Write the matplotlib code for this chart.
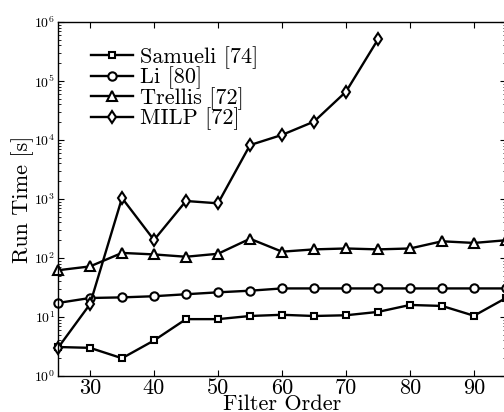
import numpy as np
import matplotlib
matplotlib.use('Agg')
import matplotlib.pyplot as plt
from matplotlib.ticker import FixedLocator, FuncFormatter, LogLocator, NullFormatter

plt.rcParams['mathtext.fontset'] = 'cm'
plt.rcParams['font.family'] = ['cmr10', 'DejaVu Serif']
plt.rcParams['axes.unicode_minus'] = False

order = [25, 30, 35, 40, 45, 50, 55, 60, 65, 70, 75, 80, 85, 90, 95]
order_milp = [25, 30, 35, 40, 45, 50, 55, 60, 65, 70, 75]

samueli = [3.1, 3.0, 2.0, 4.0, 9.2, 9.2, 10.4, 10.9, 10.4, 10.7, 12.2, 16.0, 15.4, 10.5, 21.0]
li = [17.3, 21.0, 21.5, 22.5, 24.3, 26.2, 27.9, 30.5, 30.5, 30.5, 30.5, 30.5, 30.5, 30.5, 30.5]
trellis = [62, 72, 122, 115, 105, 118, 212, 128, 140, 145, 140, 145, 192, 180, 200]
milp = [3.0, 16.5, 1040, 202, 925, 845, 8200, 12200, 20500, 65900, 508000]

labels = ['Samueli [74]', 'Li [80]', 'Trellis [72]', 'MILP [72]']

fig = plt.figure(figsize=(5.04, 4.12), dpi=100)
ax = fig.add_axes([58 / 504, 36 / 412, 448 / 504, 354 / 412])

style = dict(color='black', lw=1.7, mfc='white', mec='black', mew=1.5, clip_on=False)
ax.plot(order, samueli, marker='s', ms=5, label=labels[0], **style)
ax.plot(order, li, marker='o', ms=6, label=labels[1], **style)
ax.plot(order, trellis, marker='^', ms=7, label=labels[2], **style)
ax.plot(order_milp, milp, marker='d', ms=6.5, label=labels[3], **style)

ax.set_yscale('log')
ax.set_xlim(25, 95)
ax.set_ylim(1, 1e6)

ax.xaxis.set_major_locator(FixedLocator([30, 40, 50, 60, 70, 80, 90]))
ax.xaxis.set_major_formatter(FuncFormatter(lambda v, p: '%d' % v))
ax.yaxis.set_major_locator(LogLocator(base=10, numticks=10))
ax.yaxis.set_minor_locator(LogLocator(base=10, subs=np.arange(2, 10), numticks=10))
ax.yaxis.set_minor_formatter(NullFormatter())
ax.yaxis.set_major_formatter(FuncFormatter(lambda v, p: r'$\mathsf{10^{%d}}$' % round(np.log10(v))))

ax.tick_params(which='both', direction='in', top=True, right=True)
ax.tick_params(which='major', length=4, width=0.8)
ax.tick_params(which='minor', length=2, width=0.6)
ax.tick_params(axis='x', labelsize=16, pad=2)
ax.tick_params(axis='y', labelsize=10, pad=2)
for sp in ax.spines.values():
    sp.set_linewidth(1.0)

ax.set_xlabel('Filter Order', fontsize=16, labelpad=-3)
ax.set_ylabel('Run Time [s]', fontsize=16, labelpad=0)

leg = ax.legend(loc='upper left', bbox_to_anchor=(0.035, 0.982), fontsize=16, frameon=False,
                handlelength=1.85, handletextpad=0.35, labelspacing=-0.1, borderpad=0.3)

fig.savefig('out.png', dpi=100)
